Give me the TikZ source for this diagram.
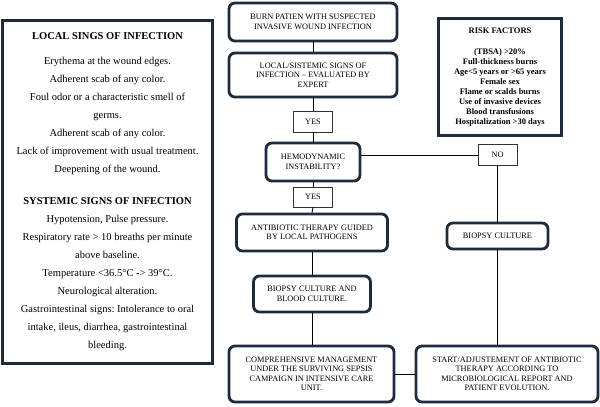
\documentclass[tikz,border=0pt]{standalone}
\usepackage{fontspec}
\setmainfont{Liberation Serif}
\frenchspacing
\begin{document}
\begin{tikzpicture}[x=1pt,y=-1pt]
\definecolor{navy}{HTML}{1E2B3C}
\tikzset{
 frame/.style={draw=navy, line width=2.8pt, align=center},
 flow/.style={draw=navy, line width=2.8pt, rounded corners=6pt, align=center, font=\fontsize{8.3}{9.5}\selectfont, inner sep=2pt},
 tag/.style={draw=black!80, line width=0.6pt, font=\fontsize{8.3}{9.5}\selectfont, inner sep=0pt},
 link/.style={draw=black, line width=0.9pt},
}
\fill[white] (0,0) rectangle (600,407);
\useasboundingbox (0,0) rectangle (600,407);

\node[frame, minimum width=210, minimum height=343, font=\fontsize{10.5}{18}\selectfont] (left) at (107.5,192)
 {\textbf{LOCAL SINGS OF INFECTION}\\[7pt]
  Erythema at the wound edges.\\
  Adherent scab of any color.\\
  Foul odor or a characteristic smell of\\
  germs.\\
  Adherent scab of any color.\\
  Lack of improvement with usual treatment.\\
  Deepening of the wound.\\[14pt]
  \textbf{SYSTEMIC SIGNS OF INFECTION}\\
  Hypotension, Pulse pressure.\\
  Respiratory rate > 10 breaths per minute\\
  above baseline.\\
  Temperature <36.5°C -> 39°C.\\
  Neurological alteration.\\
  Gastrointestinal signs: Intolerance to oral\\
  intake, ileus, diarrhea, gastrointestinal\\
  bleeding.};

\node[frame, minimum width=123, minimum height=117, font=\fontsize{8.5}{10}\selectfont\bfseries] (risk) at (500,77)
 {RISK FACTORS\\[11pt]
  (TBSA) >20\%\\
  Full-thickness burns\\
  Age<5 years or >65 years\\
  Female sex\\
  Flame or scalds burns\\
  Use of invasive devices\\
  Blood transfusions\\
  Hospitalization >30 days};

\node[flow, minimum width=168, minimum height=38] (burn) at (313,22)
 {BURN PATIEN WITH SUSPECTED\\INVASIVE WOUND INFECTION};
\node[flow, minimum width=168, minimum height=44] (local) at (313,75)
 {LOCAL/SISTEMIC SIGNS OF\\INFECTION -- EVALUATED BY\\EXPERT};
\node[tag, minimum width=39, minimum height=21] (yes1) at (313,121.5) {YES};
\node[flow, minimum width=94, minimum height=38] (hemo) at (313,162)
 {HEMODYNAMIC\\INSTABILITY?};
\node[tag, minimum width=39, minimum height=20] (yes2) at (313,197) {YES};
\node[flow, minimum width=151, minimum height=37] (anti) at (312,232.5)
 {ANTIBIOTIC THERAPY GUIDED\\BY LOCAL PATHOGENS};
\node[flow, minimum width=117, minimum height=36] (bb) at (312,294)
 {BIOPSY CULTURE AND\\BLOOD CULTURE.};
\node[flow, minimum width=165, minimum height=56] (comp) at (311.5,374)
 {COMPREHENSIVE MANAGEMENT\\UNDER THE SURVIVING SEPSIS\\CAMPAIGN IN INTENSIVE CARE\\UNIT.};
\node[tag, minimum width=39, minimum height=21] (no) at (497.5,155) {NO};
\node[flow, minimum width=101, minimum height=26] (biopsy) at (497.5,236) {BIOPSY CULTURE};
\node[flow, minimum width=182, minimum height=56] (start) at (507,374)
 {START/ADJUSTEMENT OF ANTIBIOTIC\\THERAPY ACCORDING TO\\MICROBIOLOGICAL REPORT AND\\PATIENT EVOLUTION.};

\draw[link] (burn.south) -- (local.north);
\draw[link] (local.south) -- (yes1.north);
\draw[link] (yes1.south) -- (hemo.north);
\draw[link] (hemo.south) -- (yes2.north);
\draw[link] (yes2.south) -- (anti.north);
\draw[link] (anti.south) -- (bb.north);
\draw[link] (bb.south) -- (bb.south |- comp.north);
\draw[link] (no.west) -- (no.west -| hemo.east);
\draw[link] (no.south) -- (biopsy.north);
\draw[link] (biopsy.south) -- (biopsy.south |- start.north);
\draw[link] (comp.east) -- (start.west);
\end{tikzpicture}
\end{document}
